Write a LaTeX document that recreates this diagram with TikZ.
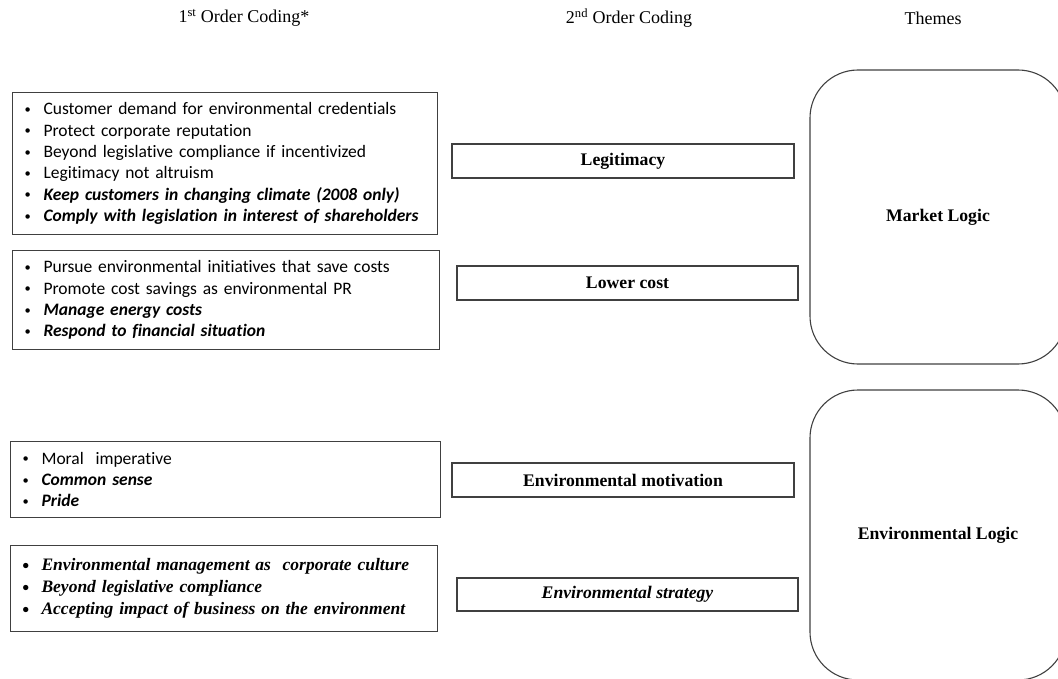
\documentclass[tikz,border=0pt]{standalone}
\usepackage{fontspec}
\setmainfont{Liberation Serif}
\newfontfamily\calibri[Ligatures=NoCommon]{Carlito}
\tikzset{
  codebox/.style={rectangle, draw=black!75, line width=1.1pt, anchor=north west,
                  align=left, inner sep=0pt, font=\calibri\fontsize{17.5}{21.4}\selectfont},
  midbox/.style={rectangle, draw=black!75, line width=1.1pt, minimum height=34pt,
                 inner sep=0pt, font=\fontsize{17.7}{20}\selectfont\bfseries},
  themebox/.style={rectangle, rounded corners=48pt, draw=black!75, line width=1.1pt,
                   minimum width=256pt, inner sep=0pt, font=\fontsize{17.7}{20}\selectfont\bfseries},
  hdr/.style={inner sep=0pt, font=\fontsize{18}{20}\selectfont},
}
\newcommand{\itm}[1]{\makebox[31pt][l]{\hspace{12pt}\raisebox{1.3pt}{\calibri\fontsize{12.5}{12.5}\selectfont\textbullet}}#1}
\newcommand{\emit}[1]{\textbf{\textit{#1}}}

\begin{document}
\begin{tikzpicture}[x=1pt, y=-1pt]
  \useasboundingbox (0,0) rectangle (1058,679);
  \clip (0,0) rectangle (1058,679);
  \node[hdr] (hfirst) at (244,18) {1\textsuperscript{st} Order Coding*};
  \node[hdr] (hsecond) at (629,18) {2\textsuperscript{nd} Order Coding};
  \node[hdr] (hthemes) at (933,18) {Themes};
  \node[codebox, text width=425pt, minimum height=142pt] (legit1) at (12,92)
    {\itm{Customer demand for environmental credentials}\\
     \itm{Protect corporate reputation}\\
     \itm{Beyond legislative compliance if incentivized}\\
     \itm{Legitimacy not altruism}\\
     \itm{\emit{Keep customers in changing climate (2008 only)}}\\
     \itm{\emit{Comply with legislation in interest of shareholders}}};
  \node[codebox, text width=427pt, minimum height=99pt] (cost1) at (12,250)
    {\itm{Pursue environmental initiatives that save costs}\\
     \itm{Promote cost savings as environmental PR}\\
     \itm{\emit{Manage energy costs}}\\
     \itm{\emit{Respond to financial situation}}};
  \node[codebox, text width=430pt, minimum height=76pt] (motiv1) at (10,441)
    {\itm{Moral~ imperative}\\
     \itm{\emit{Common sense}}\\
     \itm{\emit{Pride}}};
  \node[codebox, text width=427pt, minimum height=86pt,
        font=\fontsize{17.5}{22}\selectfont\bfseries\itshape] (strat1) at (10,545)
    {\itm{Environmental management as~ corporate culture}\\
     \itm{Beyond legislative compliance}\\
     \itm{Accepting impact of business on the environment}};
  \node[midbox, minimum width=342pt] (legit2) at (623,161) {Legitimacy};
  \node[midbox, minimum width=341pt] (cost2) at (627.5,283) {Lower cost};
  \node[midbox, minimum width=342pt] (motiv2) at (623,480) {Environmental motivation};
  \node[midbox, minimum width=341pt, minimum height=33pt,
        font=\fontsize{17.7}{20}\selectfont\bfseries\itshape] (strat2) at (627.5,594.5) {Environmental strategy};
  \node[themebox, minimum height=294pt] (market) at (938,217) {Market Logic};
  \node[themebox, minimum height=290pt] (environ) at (938,535) {Environmental Logic};
\end{tikzpicture}
\end{document}
